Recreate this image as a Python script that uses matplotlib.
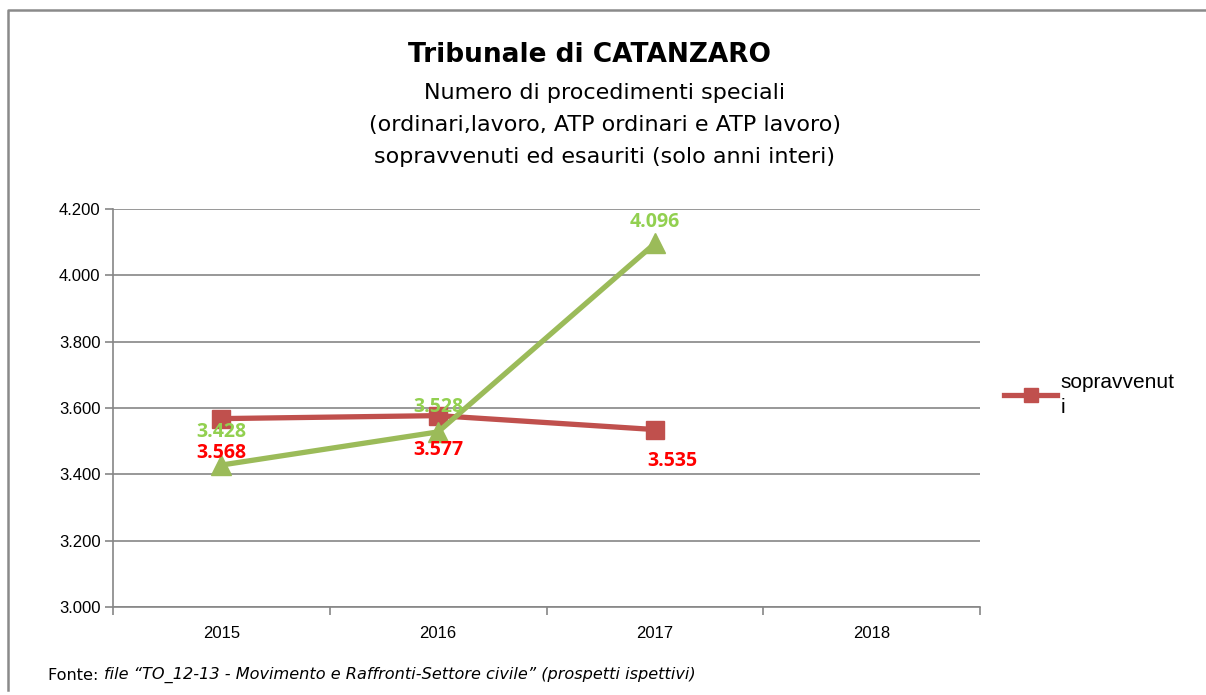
import numpy as np
import matplotlib.pyplot as plt
from matplotlib.lines import Line2D

anni = ['2015', '2016', '2017', '2018']
sopravvenuti = [3568, 3577, 3535]
esauriti = [3428, 3528, 4096]
yticks = [3000, 3200, 3400, 3600, 3800, 4000, 4200]

red_line = '#C0504D'
green_line = '#9BBB59'
red_lab = '#FF0000'
green_lab = '#92D050'
grid_c = '#868686'

W, H = 1206, 695
fig = plt.figure(figsize=(W / 100, H / 100), dpi=100)

# cornice esterna (solo sinistra e sopra)
fig.add_artist(Line2D([8 / W, 8 / W, 1.0], [1 - 690 / H, 1 - 10 / H, 1 - 10 / H],
                      color='#8a8a8a', lw=1.8))

ax = fig.add_axes([113 / W, 1 - 607 / H, 867 / W, 398 / H])

x = np.arange(len(anni))
ax.plot(x[:3], sopravvenuti, color=red_line, lw=3.8, marker='s', ms=13,
        label='sopravvenut\ni', zorder=3)
ax.plot(x[:3], esauriti, color=green_line, lw=3.8, marker='^', ms=15,
        zorder=4)

# spostamenti delle etichette (pixel), come nel grafico originale
off_red = [(0, -34), (0, -34), (17, -31)]
off_green = [(0, 33), (0, 25), (0, 21)]
for xi, v, o in zip(x, sopravvenuti, off_red):
    ax.annotate(f'{v/1000:.3f}', (xi, v), xytext=o, textcoords='offset pixels',
                ha='center', va='center', color=red_lab, fontsize=14,
                fontweight='bold', family='Open Sans', zorder=5)
for xi, v, o in zip(x, esauriti, off_green):
    ax.annotate(f'{v/1000:.3f}', (xi, v), xytext=o, textcoords='offset pixels',
                ha='center', va='center', color=green_lab, fontsize=14,
                fontweight='bold', family='Open Sans', zorder=5)

ax.set_xlim(-0.5, 3.5)
ax.set_ylim(3000, 4200)
ax.set_yticks(yticks)
ax.set_yticklabels([f'{t/1000:.3f}' for t in yticks], family='Liberation Sans', fontsize=12)
ax.set_xticks(x)
ax.set_xticklabels(anni, family='Liberation Sans', fontsize=12)
ax.set_xticks(np.arange(-0.5, 4, 1), minor=True)
ax.tick_params(axis='x', which='major', length=0, pad=14)
ax.tick_params(axis='x', which='minor', length=6, color=grid_c, width=1.2)
ax.tick_params(axis='y', length=6, color=grid_c, width=1.2, pad=3)
ax.grid(axis='y', color=grid_c, lw=1.2)
ax.set_axisbelow(True)
for s in ['top', 'right']:
    ax.spines[s].set_visible(False)
for s in ['left', 'bottom']:
    ax.spines[s].set_color(grid_c)
    ax.spines[s].set_linewidth(1.2)

leg = fig.legend(loc='center left', bbox_to_anchor=(996 / W, 1 - 395 / H), frameon=False,
                 prop={'family': 'Liberation Sans', 'size': 15}, handlelength=2.55,
                 handletextpad=0.15, borderaxespad=0, markerscale=0.75)
leg.get_texts()[0].set_linespacing(1.35)

fig.text(590 / W, 1 - 55 / H, 'Tribunale di CATANZARO', ha='center', va='center',
         fontsize=19, fontweight='bold')
fig.text(605 / W, 1 - 125 / H,
         'Numero di procedimenti speciali\n(ordinari,lavoro, ATP ordinari e ATP lavoro)\n'
         'sopravvenuti ed esauriti (solo anni interi)',
         ha='center', va='center', fontsize=16, linespacing=1.78)

t1 = fig.text(48 / W, 1 - 675 / H, 'Fonte: ', ha='left', va='center', fontsize=11.6)
ax.annotate('file \u201cTO_12-13 - Movimento e Raffronti-Settore civile\u201d (prospetti ispettivi)',
            xy=(1, 0.5), xycoords=t1, ha='left', va='center', fontsize=11.6,
            style='italic', annotation_clip=False)

fig.savefig('out.png', dpi=100)
